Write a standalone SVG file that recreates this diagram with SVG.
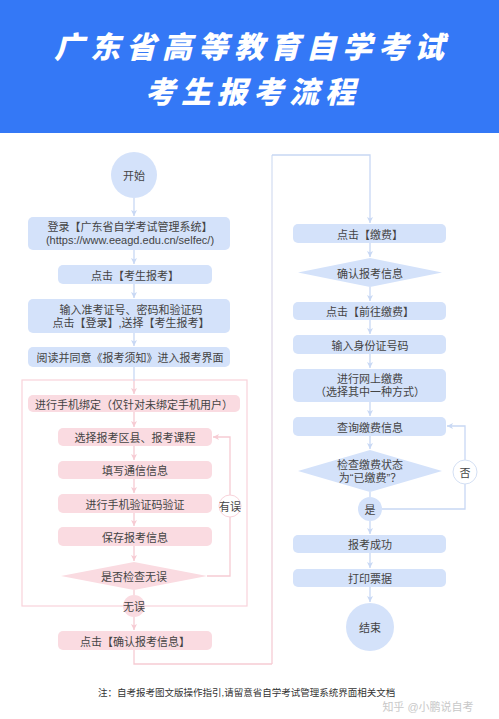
<svg xmlns="http://www.w3.org/2000/svg" width="499" height="719" viewBox="0 0 499 719">
<style>
text{font-family:"Noto Sans CJK SC","Noto Sans",sans-serif;fill:#444;font-size:11px;text-anchor:middle;dominant-baseline:central}
text.m{font-family:"Liberation Sans","Noto Sans CJK SC",sans-serif}
.title{fill:#fff;font-size:30px;font-weight:900;font-style:italic;letter-spacing:6px}
.b{fill:#d4e2fa}
.p{fill:#fadbe1}
.lb{fill:none;stroke:#c8d8f4;stroke-width:1.3}
.lp{fill:none;stroke:#f6cbd3;stroke-width:1.3}
.ab{marker-end:url(#ab)}
.ap{marker-end:url(#ap)}
.note{font-size:9.5px;fill:#333;text-anchor:start}
</style>
<defs>
<marker id="ab" markerWidth="7" markerHeight="7" refX="6" refY="3" orient="auto" markerUnits="userSpaceOnUse"><path d="M0,0 L6,3 L0,6 L1.5,3 z" fill="#c8d8f4"/></marker>
<marker id="ap" markerWidth="7" markerHeight="7" refX="6" refY="3" orient="auto" markerUnits="userSpaceOnUse"><path d="M0,0 L6,3 L0,6 L1.5,3 z" fill="#f6cbd3"/></marker>
<linearGradient id="gv" gradientUnits="userSpaceOnUse" x1="0" y1="664" x2="0" y2="155"><stop offset="0" stop-color="#f6cbd3"/><stop offset="1" stop-color="#d4e0f4"/></linearGradient>
</defs>
<rect width="499" height="719" fill="#fff"/>
<g id="header">
<rect x="0" y="0" width="499" height="133" fill="#3478f6"/>
<text class="title" x="252" y="44.5">广东省高等教育自学考试</text>
<text class="title" x="253" y="89.5">考生报考流程</text>
</g>
<rect id="group-box" x="22" y="380" width="225" height="226" fill="none" stroke="#f8d3da" stroke-width="1.2"/>
<g id="connectors">
<path class="lb ab" d="M134,198 V216"/>
<path class="lb ab" d="M134,250 V264"/>
<path class="lb ab" d="M134,284 V298"/>
<path class="lb ab" d="M134,333 V346"/>
<path class="lb" d="M134,367 V381"/>
<path class="lp ap" d="M134,381 V394"/>
<path class="lp ap" d="M134,412 V427"/>
<path class="lp ap" d="M134,446 V460"/>
<path class="lp ap" d="M134,479 V493"/>
<path class="lp ap" d="M134,513 V526"/>
<path class="lp ap" d="M134,546 V561"/>
<path class="lp" d="M134,590 V595"/>
<path class="lp ap" d="M134,617 V630"/>
<path class="lp ap" d="M207,576 H230 V437 H213"/>
<path class="lp" d="M134,650 V664 H272"/>
<path fill="none" stroke="url(#gv)" stroke-width="1.3" d="M272,664 V155"/>
<path class="lb ab" d="M272,155 H370 V223"/>
<path class="lb ab" d="M370,243 V257"/>
<path class="lb ab" d="M370,287 V301"/>
<path class="lb ab" d="M370,320 V334"/>
<path class="lb ab" d="M370,354 V368"/>
<path class="lb ab" d="M370,402 V416"/>
<path class="lb ab" d="M370,436 V449"/>
<path class="lb" d="M370,492 V497"/>
<path class="lb ab" d="M370,521 V534"/>
<path class="lb ab" d="M382,509 H465 V426 H447"/>
<path class="lb ab" d="M370,553 V568"/>
<path class="lb ab" d="M370,587 V602"/>
</g>
<g id="start"><circle class="b" cx="134" cy="175" r="23"/><text x="134" y="175">开始</text></g>
<g id="login"><rect class="b" x="28" y="217" width="202" height="33" rx="5"/><text class="m" x="130" y="227">登录【广东省自学考试管理系统】<tspan x="130" dy="13">(https://www.eeagd.edu.cn/selfec/)</tspan></text></g>
<g id="click-apply"><rect class="b" x="58" y="265" width="154" height="19" rx="5"/><text x="135" y="274.5">点击【考生报考】</text></g>
<g id="input-id"><rect class="b" x="28" y="299" width="202" height="34" rx="5"/><text class="m" x="131" y="310">输入准考证号、密码和验证码<tspan x="131" dy="13">点击【登录】,送择【考生报考】</tspan></text></g>
<g id="read-notice"><rect class="b" x="28" y="347" width="202" height="20" rx="5"/><text x="130" y="357">阅读并同意《报考须知》进入报考界面</text></g>
<g id="bind-phone"><rect class="p" x="28" y="395" width="212" height="17" rx="5"/><text x="134" y="403.5">进行手机绑定（仅针对未绑定手机用户）</text></g>
<g id="choose-course"><rect class="p" x="58" y="428" width="154" height="18" rx="5"/><text x="135" y="437">选择报考区县、报考课程</text></g>
<g id="fill-contact"><rect class="p" x="58" y="461" width="154" height="18" rx="5"/><text x="135" y="470">填写通信信息</text></g>
<g id="verify-phone"><rect class="p" x="58" y="494" width="154" height="19" rx="5"/><text x="135" y="503.5">进行手机验证码验证</text></g>
<g id="save-info"><rect class="p" x="58" y="527" width="154" height="19" rx="5"/><text x="135" y="536.5">保存报考信息</text></g>
<g id="check-ok"><polygon class="p" points="134,562 207,576 134,590 61,576"/><text x="134" y="576">是否检查无误</text></g>
<g id="error-label"><circle cx="230" cy="506" r="11" fill="#fff" stroke="#f8d3da" stroke-width="1"/><text x="230" y="506" font-size="10">有误</text></g>
<g id="ok-label"><circle class="p" cx="134" cy="606" r="11"/><text x="134" y="606" font-size="10">无误</text></g>
<g id="confirm-info"><rect class="p" x="58" y="631" width="154" height="19" rx="5"/><text x="135" y="640.5">点击【确认报考信息】</text></g>
<g id="pay"><rect class="b" x="293" y="224" width="153" height="19" rx="5"/><text x="370" y="233.5">点击【缴费】</text></g>
<g id="confirm-diamond"><polygon class="b" points="370,258 442,272.5 370,287 298,272.5"/><text x="370" y="272.5">确认报考信息</text></g>
<g id="go-pay"><rect class="b" x="293" y="302" width="153" height="18" rx="5"/><text x="370" y="311">点击【前往缴费】</text></g>
<g id="id-number"><rect class="b" x="293" y="335" width="153" height="19" rx="5"/><text x="370" y="344.5">输入身份证号码</text></g>
<g id="online-pay"><rect class="b" x="293" y="369" width="153" height="33" rx="5"/><text class="m" x="370" y="378.5">进行网上缴费<tspan x="370" dy="13.5">（选择其中一种方式）</tspan></text></g>
<g id="query-pay"><rect class="b" x="293" y="417" width="153" height="19" rx="5"/><text x="370" y="426.5">查询缴费信息</text></g>
<g id="check-status"><polygon class="b" points="370,450 442,471 370,492 298,471"/><text class="m" x="370" y="465">检查缴费状态<tspan x="370" dy="13">为“已缴费”？</tspan></text></g>
<g id="yes-label"><circle class="b" cx="370" cy="509" r="12"/><text x="370" y="509" font-size="10">是</text></g>
<g id="no-label"><circle cx="465" cy="472" r="12" fill="#fff" stroke="#d4e0f4" stroke-width="1"/><text x="465" y="472" font-size="10">否</text></g>
<g id="success"><rect class="b" x="293" y="535" width="153" height="18" rx="5"/><text x="370" y="544">报考成功</text></g>
<g id="print"><rect class="b" x="293" y="569" width="153" height="18" rx="5"/><text x="370" y="578">打印票据</text></g>
<g id="end"><circle class="b" cx="370" cy="627" r="24"/><text x="370" y="627">结束</text></g>
<g id="footer">
<text class="note m" x="98" y="692">注：自考报考图文版操作指引,请留意省自学考试管理系统界面相关文档</text>
<text class="m" x="428" y="707" font-size="14" style="fill:#bbb;opacity:0.8">知乎 @小鹏说自考</text>
</g>
</svg>
